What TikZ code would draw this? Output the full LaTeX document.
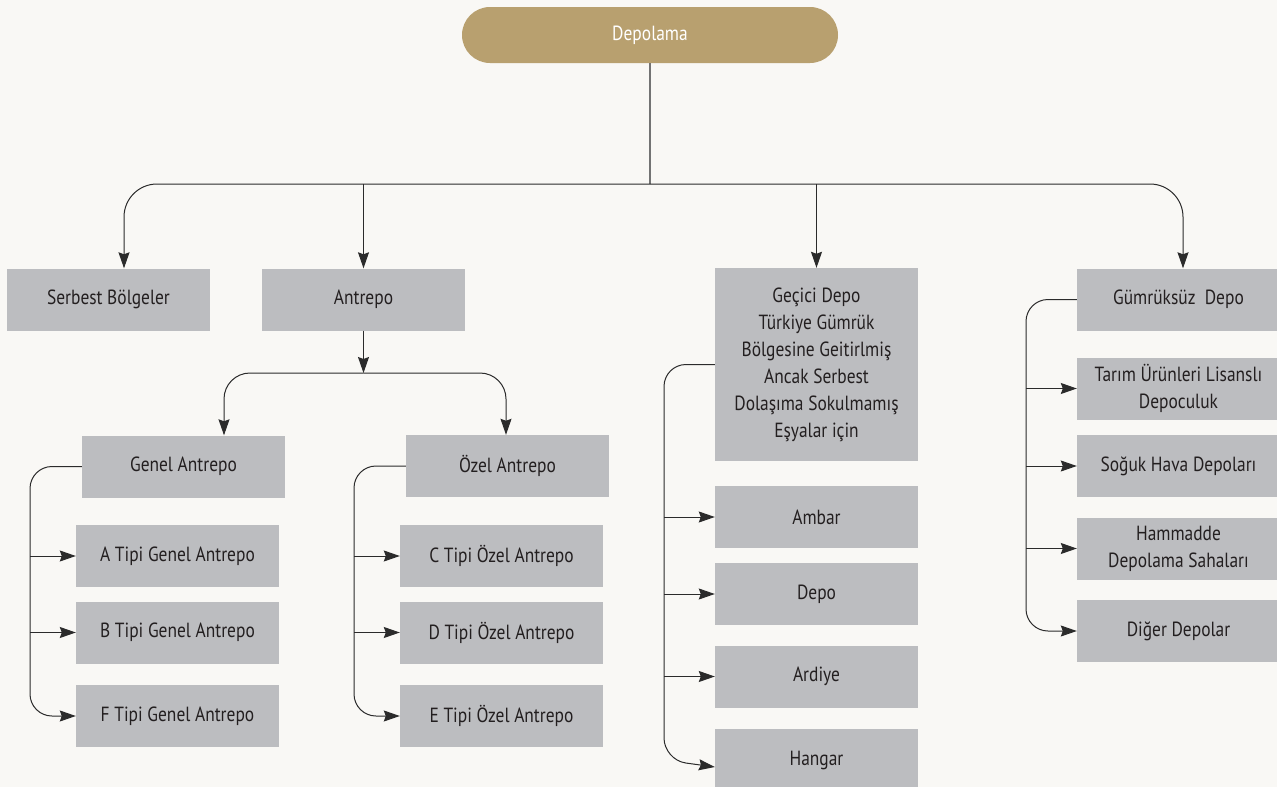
\documentclass[tikz,border=0pt]{standalone}
\usepackage{fontspec}
\setmainfont[FakeStretch=0.85]{PT Sans}
\usepackage{tikz}
\usetikzlibrary{arrows.meta}
\definecolor{paper}{HTML}{F9F8F5}
\definecolor{boxgray}{HTML}{BCBDC0}
\definecolor{gold}{HTML}{B8A06F}
\definecolor{ink}{HTML}{231F20}
\definecolor{wire}{HTML}{2B2B2B}

\begin{document}
\begin{tikzpicture}[x=1pt,y=-1pt,
	box/.style={fill=boxgray, minimum width=203pt, minimum height=62pt, inner sep=0pt, align=center, text=ink, font=\fontsize{20.5}{27}\selectfont},
	pill/.style={fill=gold, rounded corners=28pt, minimum width=376pt, minimum height=56pt, text=white, font=\fontsize{20.5}{27}\selectfont},
	link/.style={draw=wire, line width=1pt},
	arr/.style={link, -{Stealth[length=16pt,width=11pt,inset=2pt]}}]
		\fill[paper] (0,0) rectangle (1277,787);
		\useasboundingbox (0,0) rectangle (1277,787);
		\node[pill] (depolama) at (650,35) {Depolama};
		\node[box] (serbest) at (108.5,299.5) {Serbest Bölgeler};
		\node[box] (antrepo) at (363.5,299.5) {Antrepo};
		\node[box, minimum height=193pt] (gecici) at (816.5,364.5) {Geçici Depo\\Türkiye Gümrük\\Bölgesine Geitirlmiş\\Ancak Serbest\\Dolaşıma Sokulmamış\\Eşyalar için};
		\node[box] (gumruksuz) at (1178.5,299.5) {Gümrüksüz\ \ Depo};
		\node[box] (genel) at (183.5,466.5) {Genel Antrepo};
		\node[box] (ozel) at (507.5,466) {Özel Antrepo};
		\node[box] (gena) at (177.5,556) {A Tipi Genel Antrepo};
		\node[box] (genb) at (177.5,632.5) {B Tipi Genel Antrepo};
		\node[box] (genf) at (177.5,716) {F Tipi Genel Antrepo};
		\node[box] (ozc) at (501.5,556) {C Tipi Özel Antrepo};
		\node[box] (ozd) at (501.5,632.5) {D Tipi Özel Antrepo};
		\node[box] (oze) at (501.5,716) {E Tipi Özel Antrepo};
		\node[box] (ambar) at (816.5,517) {Ambar};
		\node[box] (depo) at (816.5,594) {Depo};
		\node[box] (ardiye) at (816.5,676.5) {Ardiye};
		\node[box] (hangar) at (816.5,760) {Hangar};
		\node[box] (tarim) at (1178.5,388.5) {Tarım Ürünleri Lisanslı\\Depoculuk};
		\node[box] (soguk) at (1178.5,466) {Soğuk Hava Depoları};
		\node[box] (hammadde) at (1178.5,548.5) {Hammadde\\Depolama Sahaları};
		\node[box] (diger) at (1178.5,631) {Diğer Depolar};
		\coordinate (hub) at (650,184);
		\coordinate (split) at (363.5,373);
		\coordinate (gbar) at (30,0);
		\coordinate (obar) at (354,0);
		\coordinate (mbar) at (664,0);
		\coordinate (rbar) at (1026,0);
		\draw[link, draw=black!55, line width=1.3pt] (depolama) -- (hub);
		\draw[arr, rounded corners=33pt] (hub) -| ([xshift=15.5pt]serbest.north);
		\draw[arr, rounded corners=33pt] (hub) -| ([xshift=4.5pt]gumruksuz.north);
		\draw[arr] (antrepo.north |- hub) -- (antrepo.north);
		\draw[arr] (gecici.north |- hub) -- (gecici.north);
		\draw[arr] (antrepo.south) -- (split);
		\draw[arr, rounded corners=26pt] (split) -| ([xshift=40.5pt]genel.north);
		\draw[arr, rounded corners=26pt] (split) -| ([xshift=-1.5pt]ozel.north);
		\draw[arr, rounded corners=22pt] (genel.west) -- (gbar |- genel.west) -- (gbar |- genf.west) -- (genf.west);
		\foreach \n in {gena,genb}
			\draw[arr] (gbar |- \n.west) -- (\n.west);
		\draw[arr, rounded corners=22pt] (ozel.west) -- (obar |- ozel.west) -- (obar |- oze.west) -- (oze.west);
		\foreach \n in {ozc,ozd}
			\draw[arr] (obar |- \n.west) -- (\n.west);
		\draw[arr, rounded corners=22pt] (gecici.west) -- (mbar |- gecici.west) -- (mbar |- hangar.west) -- ([yshift=-7pt]hangar.west);
		\foreach \n in {ambar,depo,ardiye}
			\draw[arr] (mbar |- \n.west) -- (\n.west);
		\draw[arr, rounded corners=22pt] (gumruksuz.west) -- (rbar |- gumruksuz.west) -- (rbar |- diger.west) -- (diger.west);
		\foreach \n in {tarim,soguk,hammadde}
			\draw[arr] (rbar |- \n.west) -- (\n.west);
	\end{tikzpicture}
\end{document}
